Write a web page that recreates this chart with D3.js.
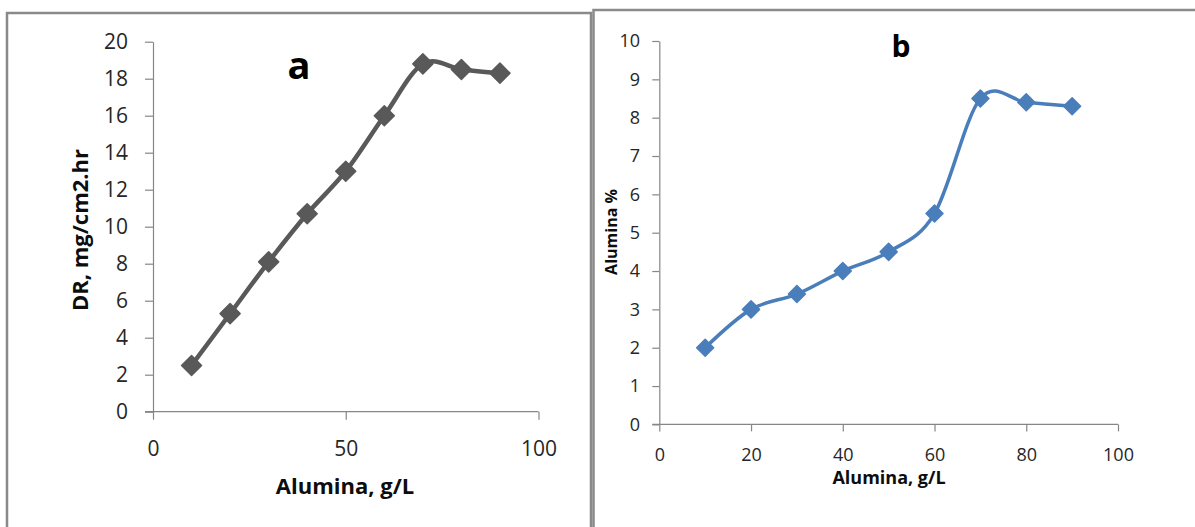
<!DOCTYPE html>
<html>
<head>
<meta charset="utf-8">
<script src="https://cdn.jsdelivr.net/npm/d3@7"></script>
<style>
  html, body { margin: 0; padding: 0; background: #fff; }
  svg { display: block; }
</style>
</head>
<body>
<svg id="chart" width="1195" height="527"></svg>
<script>
// ---- data ----
const aluminaGL = [10, 20, 30, 40, 50, 60, 70, 80, 90];
const dissolutionRate = [2.5, 5.3, 8.1, 10.7, 13.0, 16.0, 18.8, 18.5, 18.3];
const aluminaPct = [2.0, 3.0, 3.4, 4.0, 4.5, 5.5, 8.5, 8.4, 8.3];
const ticksA_x = [0, 50, 100];
const ticksA_y = [0, 2, 4, 6, 8, 10, 12, 14, 16, 18, 20];
const ticksB_x = [0, 20, 40, 60, 80, 100];
const ticksB_y = [0, 1, 2, 3, 4, 5, 6, 7, 8, 9, 10];

const svg = d3.select("#chart");
const FONT = "'Open Sans', 'Noto Sans', sans-serif";
const AXIS = "#868686";
const TEXT = "#262626";

// ---- panel frames ----
svg.append("path")
  .attr("d", "M7,540 L7,13 L591,13 L591,540")
  .attr("fill", "none").attr("stroke", "#8a8a8a").attr("stroke-width", 2.5);
svg.append("path")
  .attr("d", "M593.5,540 L593.5,10 L1200,10")
  .attr("fill", "none").attr("stroke", "#8a8a8a").attr("stroke-width", 2.5);

function diamond(r) {
  return `M0,${-r} L${r},0 L0,${r} L${-r},0 Z`;
}

function panel(cfg) {
  const g = svg.append("g");
  const x = d3.scaleLinear().domain([0, 100]).range(cfg.xr);
  const y = d3.scaleLinear().domain(cfg.yd).range(cfg.yr);

  const yAxis = d3.axisLeft(y).tickValues(cfg.yt).tickSize(cfg.tick).tickSizeOuter(0)
    .tickPadding(cfg.ypad).tickFormat(d3.format("d"));
  const xAxis = d3.axisBottom(x).tickValues(cfg.xt).tickSize(cfg.tick).tickSizeOuter(0)
    .tickPadding(cfg.xpad).tickFormat(d3.format("d"));

  const gx = g.append("g").attr("transform", `translate(0,${cfg.yr[0]})`).call(xAxis);
  const gy = g.append("g").attr("transform", `translate(${cfg.xr[0]},0)`).call(yAxis);
  [gx, gy].forEach(ax => {
    ax.selectAll("path,line").attr("stroke", AXIS).attr("stroke-width", 1.2);
    ax.selectAll("text").attr("fill", TEXT).style("font-family", FONT)
      .style("font-size", cfg.tickFs + "px");
  });
  // x axis domain drawn to the left tick end as in the original
  gx.select(".domain").remove();
  g.append("line")
    .attr("x1", cfg.xr[0] - cfg.tick).attr("x2", cfg.xr[1])
    .attr("y1", cfg.yr[0]).attr("y2", cfg.yr[0])
    .attr("stroke", AXIS).attr("stroke-width", 1.2);

  const pts = aluminaGL.map((d, i) => [x(d), y(cfg.values[i])]);
  const line = d3.line().curve(d3.curveCardinal.tension(cfg.tension));
  g.append("path").attr("d", line(pts))
    .attr("fill", "none").attr("stroke", cfg.color)
    .attr("stroke-width", cfg.lw).attr("stroke-linejoin", "round").attr("stroke-linecap", "round");

  g.selectAll(".mk").data(pts).join("path")
    .attr("transform", d => `translate(${d[0]},${d[1]})`)
    .attr("d", diamond(cfg.mr))
    .attr("fill", cfg.color).attr("stroke", cfg.color)
    .attr("stroke-width", 1.5).attr("stroke-linejoin", "round");

  // titles
  g.append("text").text(cfg.letter)
    .attr("x", cfg.letterPos[0]).attr("y", cfg.letterPos[1])
    .attr("text-anchor", "middle").attr("fill", "#000")
    .style("font-family", FONT).style("font-weight", "bold")
    .style("font-size", cfg.letterFs + "px");
  g.append("text").text("Alumina, g/L")
    .attr("x", cfg.xlabPos[0]).attr("y", cfg.xlabPos[1])
    .attr("text-anchor", "middle").attr("fill", "#0d0d0d")
    .style("font-family", FONT).style("font-weight", "bold")
    .style("font-size", cfg.xlabFs + "px");
  g.append("text").text(cfg.ylab)
    .attr("transform", `translate(${cfg.ylabPos[0]},${cfg.ylabPos[1]}) rotate(-90)`)
    .attr("text-anchor", "middle").attr("fill", "#0d0d0d")
    .style("font-family", FONT).style("font-weight", "bold")
    .style("font-size", cfg.ylabFs + "px");
}

panel({
  xr: [153, 538.5], yd: [0, 20], yr: [411.7, 41.7],
  xt: ticksA_x, yt: ticksA_y, tick: 8, ypad: 17, xpad: 21, tickFs: 21,
  values: dissolutionRate, color: "#595959", lw: 4.5, mr: 10, tension: 0,
  letter: "a", letterPos: [299, 79], letterFs: 38,
  xlabPos: [345, 494], xlabFs: 22,
  ylab: "DR, mg/cm2.hr", ylabPos: [88, 230], ylabFs: 22
});

panel({
  xr: [659.3, 1118], yd: [0, 10], yr: [424.4, 41],
  xt: ticksB_x, yt: ticksB_y, tick: 7, ypad: 12.3, xpad: 17, tickFs: 18,
  values: aluminaPct, color: "#4a7ebb", lw: 3.5, mr: 8.5, tension: 0,
  letter: "b", letterPos: [901, 57], letterFs: 30,
  xlabPos: [889, 484], xlabFs: 18,
  ylab: "Alumina %", ylabPos: [617, 232], ylabFs: 16
});
</script>
</body>
</html>
